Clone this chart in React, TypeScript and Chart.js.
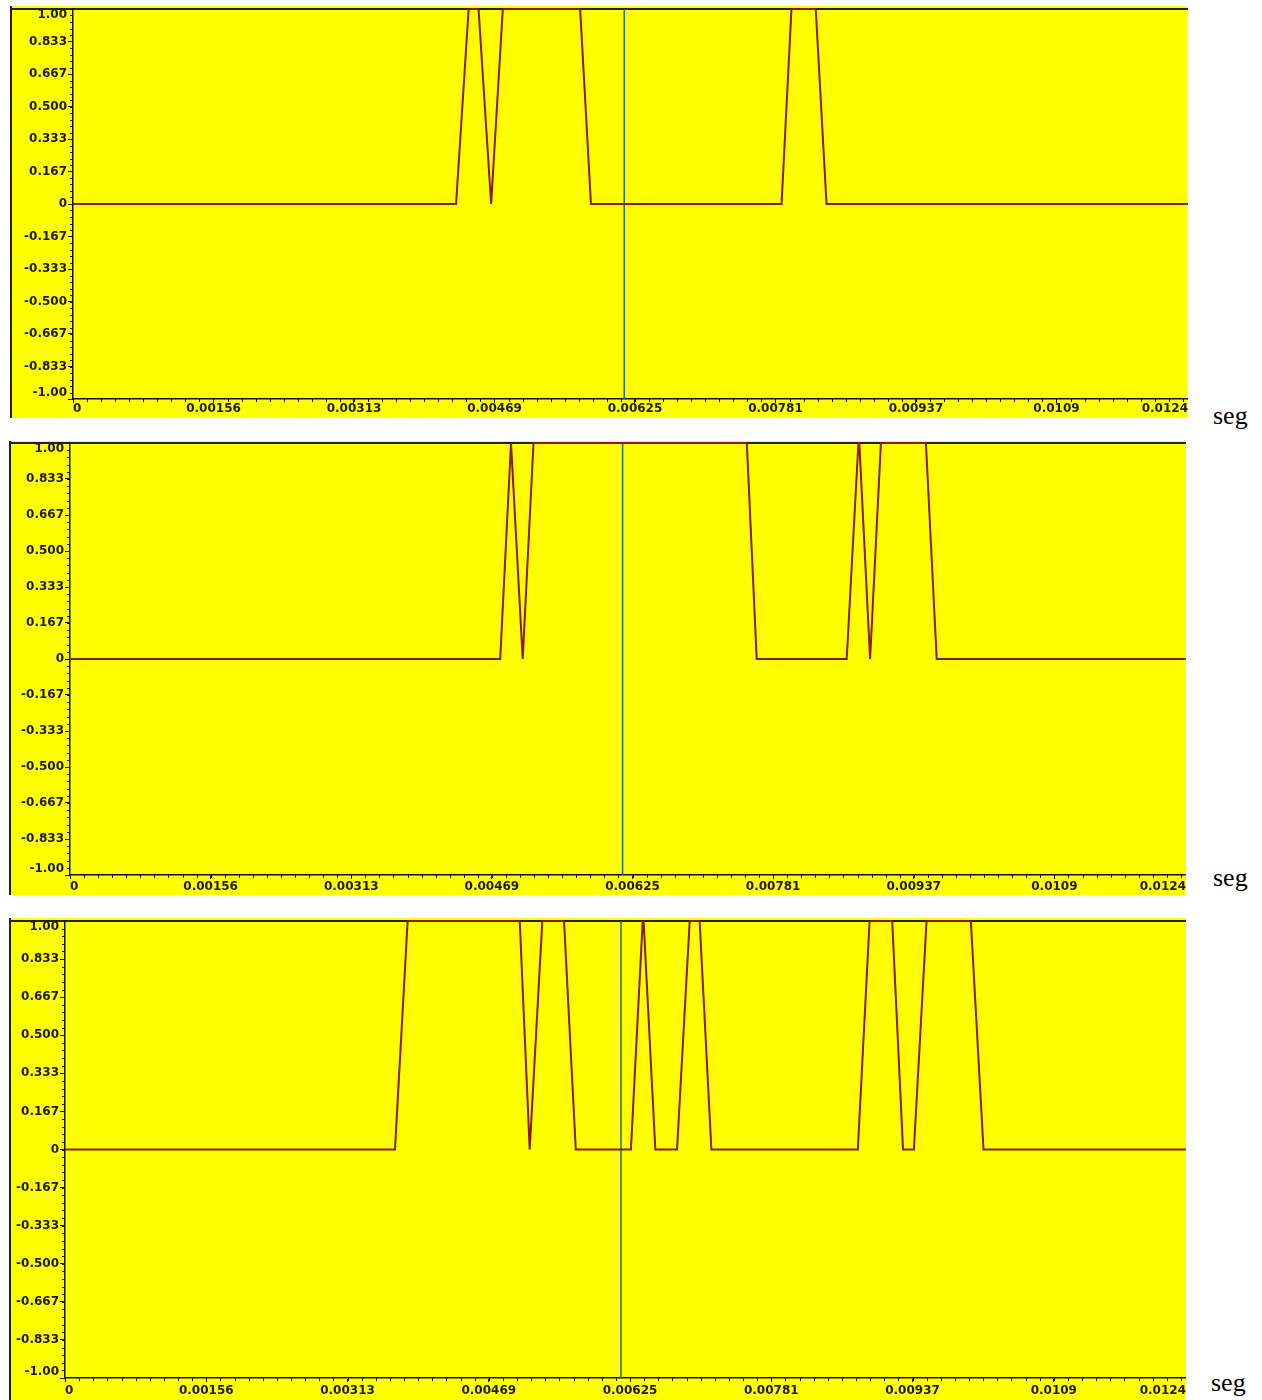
import React, { useEffect, useRef } from "react";
import { Chart, registerables } from "chart.js";

Chart.register(...registerables);

// ---------- data ----------
const X_MAX = 0.0124;
const xTickValues = [0, 0.0015625, 0.003125, 0.0046875, 0.00625, 0.0078125, 0.009375, 0.0109375, 0.0124];
const xTickLabels = ["0", "0.00156", "0.00313", "0.00469", "0.00625", "0.00781", "0.00937", "0.0109", "0.0124"];
const xMinorStep = 0.00015625;

const yTickValues = [-1, -5 / 6, -4 / 6, -3 / 6, -2 / 6, -1 / 6, 0, 1 / 6, 2 / 6, 3 / 6, 4 / 6, 5 / 6, 1];
const yTickLabels = ["-1.00", "-0.833", "-0.667", "-0.500", "-0.333", "-0.167", "0", "0.167", "0.333", "0.500", "0.667", "0.833", "1.00"];
const yMinorStep = 1 / 30;

const panel1Time = [0, 0.00426, 0.0044, 0.00451, 0.00465, 0.00478, 0.00564, 0.00576, 0.00788, 0.00799, 0.00826, 0.00838, 0.0124];
const panel1Value = [0, 0, 1, 1, 0, 1, 1, 0, 0, 1, 1, 0, 0];
const panel1Cursor = 0.00613;

const panel2Time = [0, 0.00478, 0.0049, 0.00491, 0.00503, 0.00515, 0.00752, 0.00763, 0.00863, 0.00876, 0.00877, 0.00889, 0.00901, 0.00951, 0.00963, 0.0124];
const panel2Value = [0, 0, 1, 1, 0, 1, 1, 0, 0, 1, 1, 0, 1, 1, 0, 0];
const panel2Cursor = 0.00614;

const panel3Time = [0, 0.00365, 0.00379, 0.00503, 0.00514, 0.00528, 0.00552, 0.00565, 0.00626, 0.00639, 0.0064, 0.00653, 0.00677, 0.00691, 0.00702, 0.00715, 0.00877, 0.0089, 0.00915, 0.00927, 0.00939, 0.00953, 0.01002, 0.01016, 0.0124];
const panel3Value = [0, 0, 1, 1, 0, 1, 1, 0, 0, 1, 1, 0, 0, 1, 1, 0, 0, 1, 1, 0, 0, 1, 1, 0, 0];
const panel3Cursor = 0.00615;

const unitLabel = "seg";

// ---------- layout / style ----------
const RED = "#8b1a10";
const BLUE = "#20698f";
const YELLOW = "#ffff00";
const INK = "#1a1a1a";
const FONT = { family: "'DejaVu Sans', 'Liberation Sans', sans-serif", size: 12, weight: "bold" as const, lineHeight: 1 };

const panels = [
  { time: panel1Time, value: panel1Value, cursor: panel1Cursor, left: 10, top: 6, w: 1178, h: 412, yAxisW: 63, plotTop: 3, xAxisH: 19, xPad: 0, segLeft: 1213, segTop: 403 },
  { time: panel2Time, value: panel2Value, cursor: panel2Cursor, left: 9, top: 441, w: 1177, h: 454, yAxisW: 61, plotTop: 2, xAxisH: 20, xPad: 2, segLeft: 1213, segTop: 865 },
  { time: panel3Time, value: panel3Value, cursor: panel3Cursor, left: 9, top: 918, w: 1177, h: 482, yAxisW: 56, plotTop: 3, xAxisH: 22, xPad: 3, segLeft: 1211, segTop: 1370 },
];

const decorPlugin = {
  id: "decor",
  beforeDraw(chart: any) {
    const { ctx, width, height } = chart;
    ctx.save();
    ctx.fillStyle = YELLOW;
    ctx.fillRect(0, 0, width, height);
    ctx.restore();
  },
  beforeDatasetsDraw(chart: any) {
    const { ctx, chartArea, height } = chart;
    ctx.save();
    ctx.strokeStyle = "#222";
    ctx.lineWidth = 2;
    ctx.beginPath();
    ctx.moveTo(0, chartArea.top);
    ctx.lineTo(chartArea.right, chartArea.top);
    ctx.stroke();
    ctx.beginPath();
    ctx.moveTo(1, 0);
    ctx.lineTo(1, height);
    ctx.stroke();
    ctx.restore();
  },
  afterDraw(chart: any) {
    const { ctx, chartArea, scales } = chart;
    const xs = scales.x;
    const ys = scales.y;
    ctx.save();
    ctx.strokeStyle = "#111";
    ctx.lineWidth = 1;
    ctx.beginPath();
    for (let i = 0; i * xMinorStep <= X_MAX + 1e-9; i++) {
      const px = Math.round(xs.getPixelForValue(i * xMinorStep)) + 0.5;
      ctx.moveTo(px, chartArea.bottom);
      ctx.lineTo(px, chartArea.bottom + 3);
    }
    for (let i = -30; i <= 30; i++) {
      const py = Math.round(ys.getPixelForValue(i * yMinorStep)) + 0.5;
      ctx.moveTo(chartArea.left - 3, py);
      ctx.lineTo(chartArea.left, py);
    }
    ctx.stroke();
    ctx.restore();
  },
};

function Panel({ cfg }: { cfg: (typeof panels)[number] }) {
  const ref = useRef<HTMLCanvasElement>(null);
  useEffect(() => {
    const pts = cfg.time.map((t, i) => ({ x: t, y: cfg.value[i] }));
    const chart = new Chart(ref.current as HTMLCanvasElement, {
      type: "line",
      data: {
        datasets: [
          {
            data: pts,
            borderColor: RED,
            borderWidth: 2,
            pointRadius: 0,
            tension: 0,
            fill: false,
            clip: false as any,
          },
          {
            data: [
              { x: cfg.cursor, y: -1 },
              { x: cfg.cursor, y: 1 },
            ],
            borderColor: BLUE,
            borderWidth: 1.5,
            pointRadius: 0,
            fill: false,
          },
        ],
      },
      options: {
        responsive: false,
        animation: false,
        devicePixelRatio: 1,
        layout: { padding: { top: cfg.plotTop, left: 0, right: 0, bottom: 0 } },
        plugins: { legend: { display: false }, tooltip: { enabled: false } },
        events: [],
        scales: {
          x: {
            type: "linear",
            min: 0,
            max: X_MAX,
            afterBuildTicks: (s: any) => {
              s.ticks = xTickValues.map((v) => ({ value: v }));
            },
            afterFit: (s: any) => {
              s.height = cfg.xAxisH;
              s.paddingLeft = 0;
              s.paddingRight = 0;
            },
            grid: { drawOnChartArea: false, drawTicks: true, tickLength: 4, tickColor: "#111", tickWidth: 1 },
            border: { display: true, color: "#111", width: 1.5 },
            ticks: {
              autoSkip: false,
              maxRotation: 0,
              minRotation: 0,
              align: "inner",
              padding: cfg.xPad,
              color: INK,
              font: FONT,
              callback: (_v: any, i: number) => xTickLabels[i],
            },
          },
          y: {
            type: "linear",
            min: -1,
            max: 1,
            afterBuildTicks: (s: any) => {
              s.ticks = yTickValues.map((v) => ({ value: v }));
            },
            afterFit: (s: any) => {
              s.width = cfg.yAxisW;
              s.paddingTop = 0;
              s.paddingBottom = 0;
            },
            grid: { drawOnChartArea: false, drawTicks: true, tickLength: 5, tickColor: "#111", tickWidth: 1 },
            border: { display: true, color: "#111", width: 1.5 },
            ticks: {
              autoSkip: false,
              padding: 1,
              color: INK,
              font: FONT,
              callback: (_v: any, i: number) => {
                const lab = yTickLabels[i];
                if (i === yTickLabels.length - 1) return ["", lab];
                if (i === 0) return [lab, ""];
                return lab;
              },
            },
          },
        },
      },
      plugins: [decorPlugin],
    } as any);
    return () => chart.destroy();
  }, []);
  return (
    <canvas
      ref={ref}
      width={cfg.w}
      height={cfg.h}
      style={{ position: "absolute", left: cfg.left, top: cfg.top, width: cfg.w, height: cfg.h }}
    />
  );
}

export default function App() {
  return (
    <div style={{ position: "absolute", left: 0, top: 0, width: 1262, height: 1400, background: "#fff", overflow: "hidden" }}>
      {panels.map((p, i) => (
        <React.Fragment key={i}>
          <Panel cfg={p} />
          <div
            style={{
              position: "absolute",
              left: p.segLeft,
              top: p.segTop,
              fontFamily: "'Liberation Serif', 'DejaVu Serif', serif",
              fontSize: 26,
              lineHeight: "26px",
              color: "#000",
            }}
          >
            {unitLabel}
          </div>
        </React.Fragment>
      ))}
    </div>
  );
}
